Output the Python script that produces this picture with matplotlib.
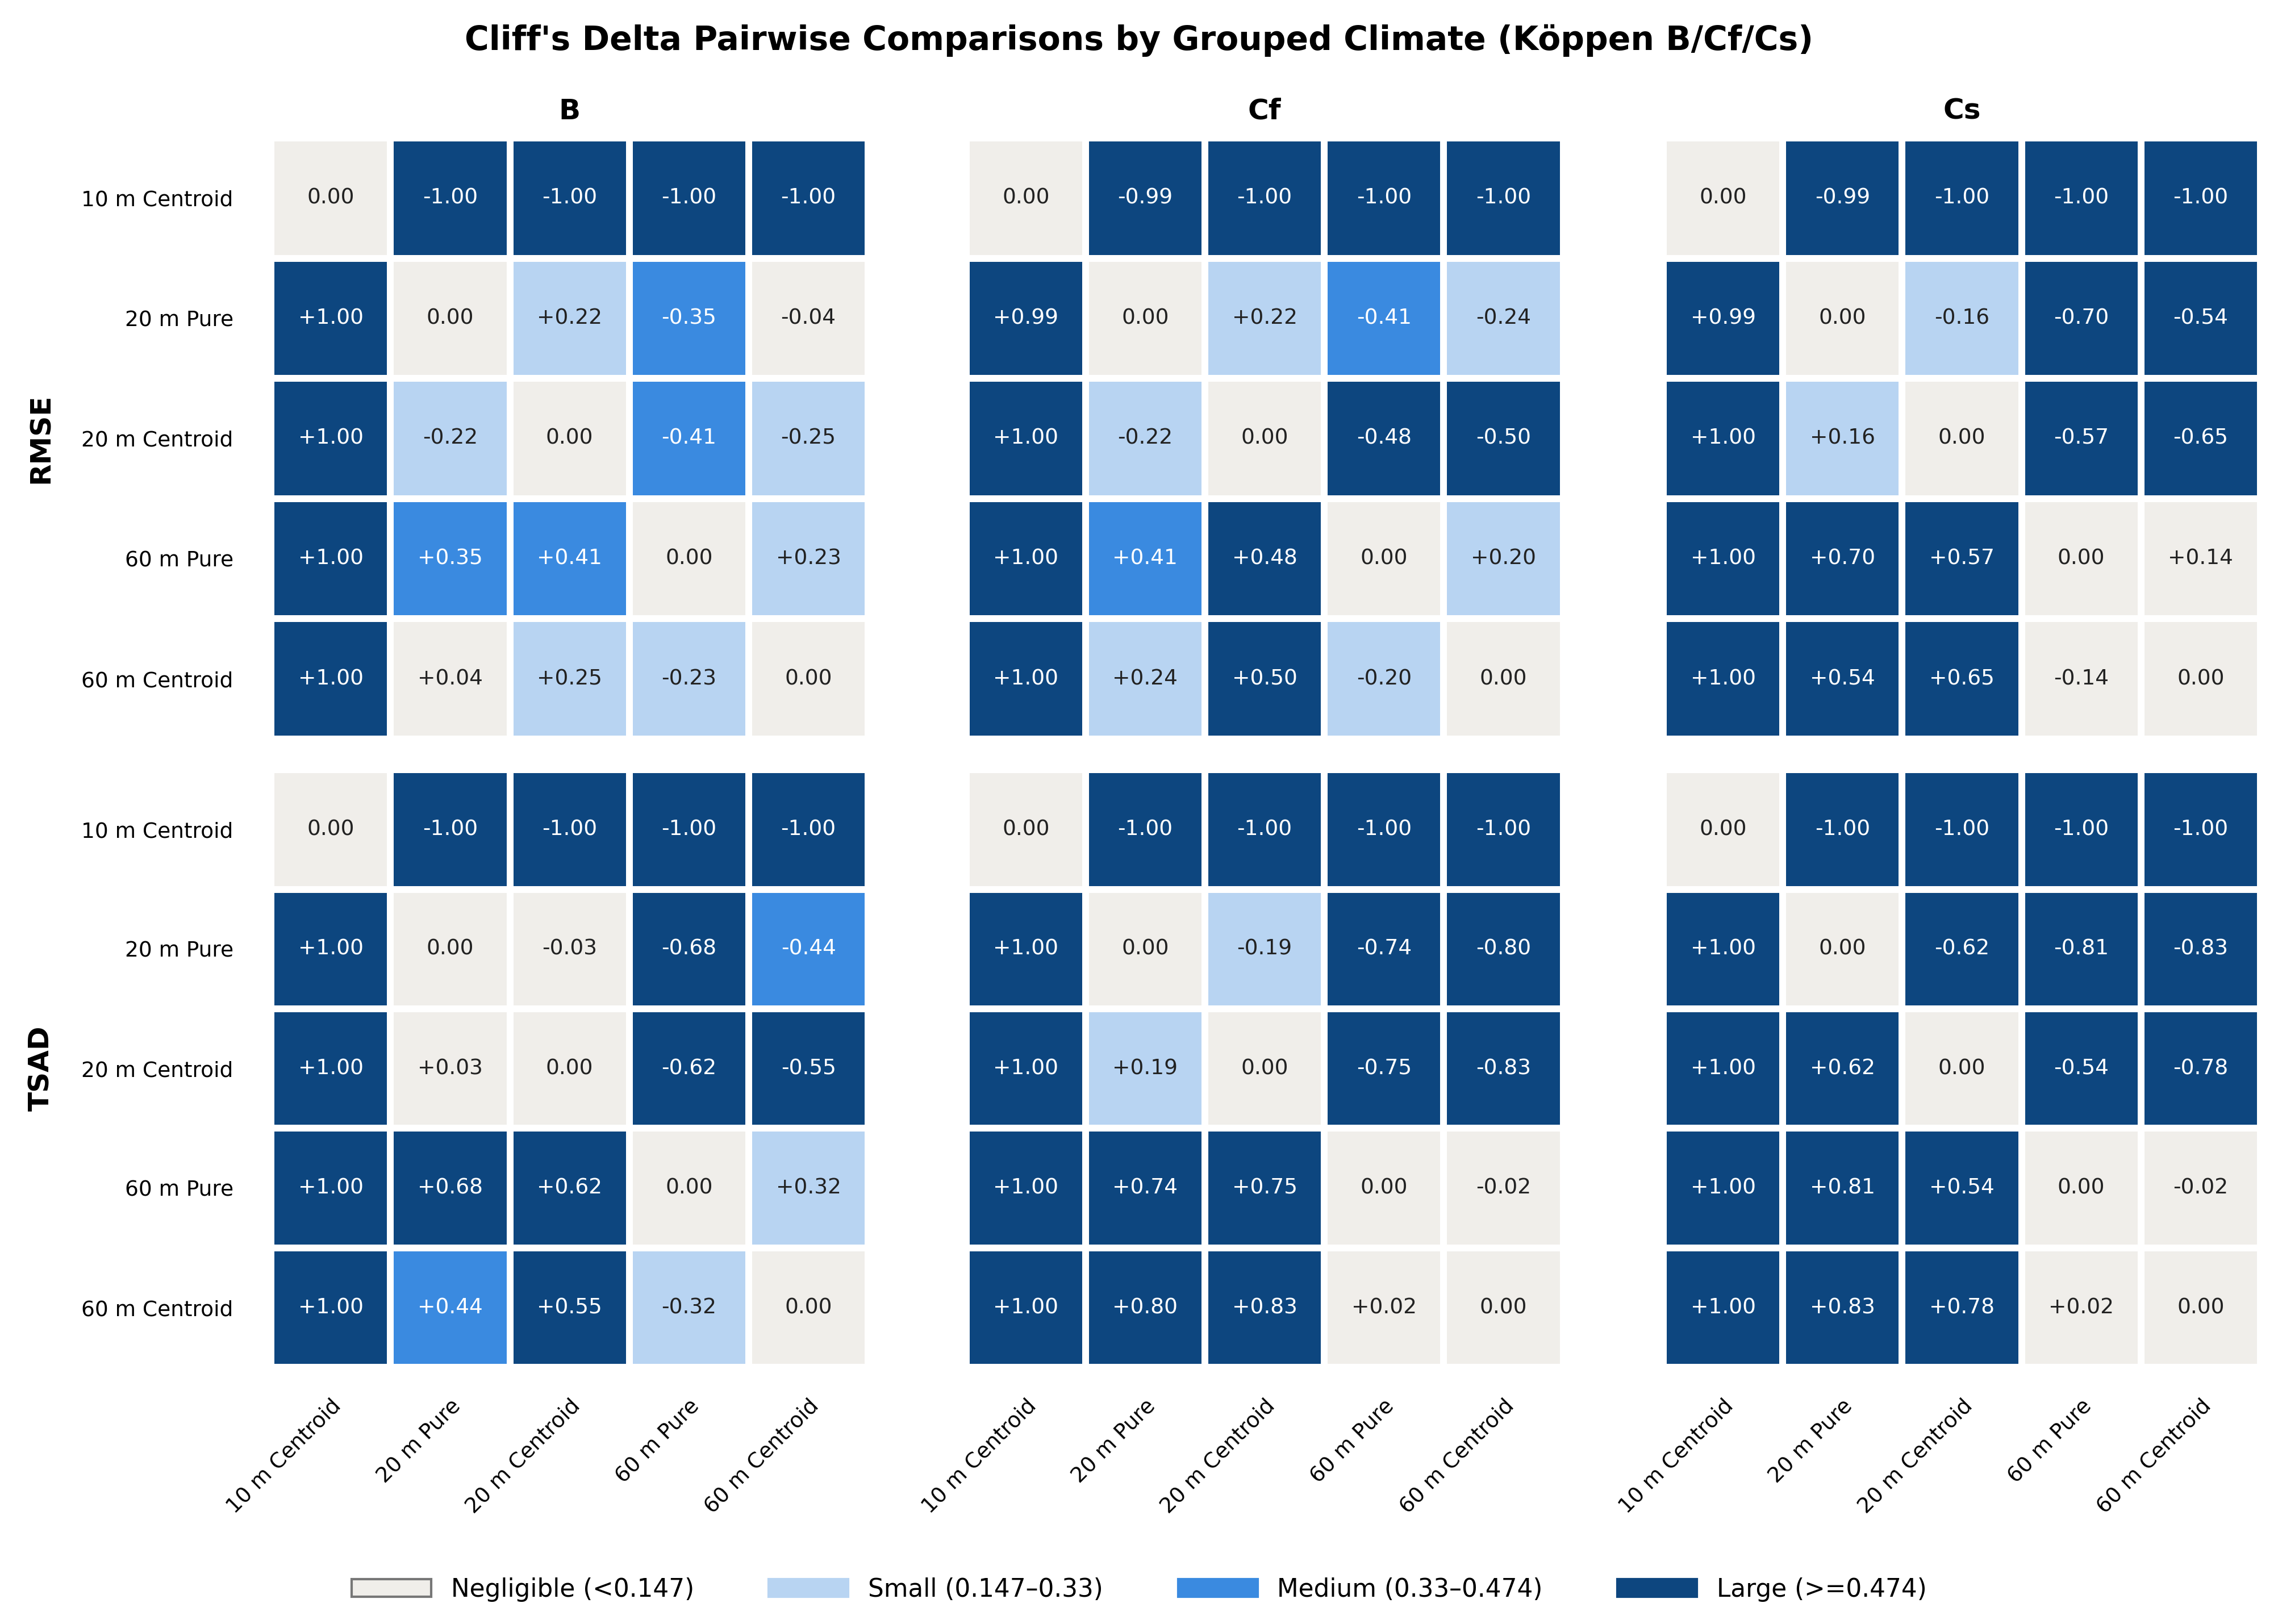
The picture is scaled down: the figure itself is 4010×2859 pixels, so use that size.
import numpy as np
import matplotlib
matplotlib.use("Agg")
import matplotlib.pyplot as plt
from matplotlib.colors import ListedColormap
from matplotlib.patches import Patch

labels = ["10 m Centroid", "20 m Pure", "20 m Centroid", "60 m Pure", "60 m Centroid"]
climates = ["B", "Cf", "Cs"]
metrics = ["RMSE", "TSAD"]

# upper-triangle values (row i, col j>i); matrix is antisymmetric
rmse_B = [-1.00, -1.00, -1.00, -1.00, 0.22, -0.35, -0.04, -0.41, -0.25, 0.23]
rmse_Cf = [-0.99, -1.00, -1.00, -1.00, 0.22, -0.41, -0.24, -0.48, -0.50, 0.20]
rmse_Cs = [-0.99, -1.00, -1.00, -1.00, -0.16, -0.70, -0.54, -0.57, -0.65, 0.14]
tsad_B = [-1.00, -1.00, -1.00, -1.00, -0.03, -0.68, -0.44, -0.62, -0.55, 0.32]
tsad_Cf = [-1.00, -1.00, -1.00, -1.00, -0.19, -0.74, -0.80, -0.75, -0.83, -0.02]
tsad_Cs = [-1.00, -1.00, -1.00, -1.00, -0.62, -0.81, -0.83, -0.54, -0.78, -0.02]
data = {("RMSE", "B"): rmse_B, ("RMSE", "Cf"): rmse_Cf, ("RMSE", "Cs"): rmse_Cs,
        ("TSAD", "B"): tsad_B, ("TSAD", "Cf"): tsad_Cf, ("TSAD", "Cs"): tsad_Cs}

colors = ["#f0eeea", "#b8d4f2", "#3a8ae0", "#0d467f"]
cmap = ListedColormap(colors)
cat_names = ["Negligible (<0.147)", "Small (0.147\u20130.33)", "Medium (0.33\u20130.474)", "Large (>=0.474)"]

def build(vals):
    n = len(labels)
    m = np.zeros((n, n))
    k = 0
    for i in range(n):
        for j in range(i + 1, n):
            m[i, j] = vals[k]
            m[j, i] = -vals[k]
            k += 1
    return m

def cat(v):
    a = abs(v)
    if a < 0.147: return 0
    if a < 0.33: return 1
    if a < 0.474: return 2
    return 3

fig = plt.figure(figsize=(13.37, 9.53), dpi=300)
xs = [0.119, 0.424, 0.730]
w = 0.262
ys = [(0.545, 0.915), (0.158, 0.526)]
n = len(labels)
for r, met in enumerate(metrics):
    for c, cl in enumerate(climates):
        b, t = ys[r]
        ax = fig.add_axes([xs[c], b, w, t - b])
        m = build(data[(met, cl)])
        cats = np.vectorize(cat)(m)
        ax.pcolormesh(np.arange(n + 1), np.arange(n + 1), cats, cmap=cmap, vmin=-0.5, vmax=3.5,
                      edgecolors="white", linewidth=2.5)
        ax.set_xlim(0, n); ax.set_ylim(n, 0)
        for i in range(n):
            for j in range(n):
                v = m[i, j]
                s = "0.00" if v == 0 else f"{v:+.2f}"
                ax.text(j + 0.5, i + 0.5, s, ha="center", va="center", fontsize=9,
                        color="white" if cats[i, j] >= 2 else "#222222")
        for sp in ax.spines.values():
            sp.set_visible(False)
        ax.tick_params(length=0)
        ax.set_xticks(np.arange(n) + 0.5)
        ax.set_yticks(np.arange(n) + 0.5)
        if c == 0:
            ax.set_yticklabels(labels, fontsize=9)
            ax.tick_params(axis="y", pad=16)
        else:
            ax.set_yticklabels([])
        if r == 1:
            ax.set_xticklabels(labels, fontsize=9, rotation=45, ha="right", rotation_mode="anchor")
            ax.tick_params(axis="x", pad=12)
        else:
            ax.set_xticklabels([])
        if r == 0:
            ax.set_title(cl, fontsize=12, fontweight="bold", pad=8)
    fig.text(0.018, (ys[r][0] + ys[r][1]) / 2, met, rotation=90, ha="center", va="center",
             fontsize=12, fontweight="bold")

fig.suptitle("Cliff's Delta Pairwise Comparisons by Grouped Climate (Köppen B/Cf/Cs)",
             fontsize=14, fontweight="bold", y=0.985)
handles = [Patch(facecolor=colors[i], edgecolor="#777777" if i == 0 else colors[i]) for i in range(4)]
fig.legend(handles, cat_names, loc="lower center", ncol=4, frameon=False, fontsize=10.5,
           bbox_to_anchor=(0.5, 0.0), handlelength=3.2, columnspacing=3)
fig.savefig("out.png", dpi=300)
